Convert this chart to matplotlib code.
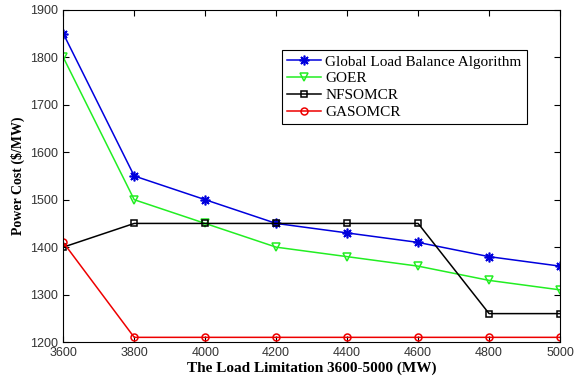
import numpy as np
import matplotlib.pyplot as plt

# Load limits (MW)
load = [3600, 3800, 4000, 4200, 4400, 4600, 4800, 5000]

# Power cost ($/MW) for each method
global_lb = [1850, 1550, 1500, 1450, 1430, 1410, 1380, 1360]
goer = [1800, 1500, 1450, 1400, 1380, 1360, 1330, 1310]
nfsomcr = [1400, 1450, 1450, 1450, 1450, 1450, 1260, 1260]
gasomcr = [1410, 1210, 1210, 1210, 1210, 1210, 1210, 1210]

fig = plt.figure(figsize=(5.75, 3.78), dpi=100)
ax = fig.add_axes([0.11, 0.095, 0.864, 0.879])

ax.plot(load, global_lb, color='#0000dd', marker=(8, 2, 0), markersize=7,
        markeredgewidth=1.2, lw=1.1, label='Global Load Balance Algorithm')
ax.plot(load, goer, color='#22ee22', marker='v', markersize=6, lw=1.1,
        markeredgewidth=1.1, markerfacecolor='none', label='GOER')
ax.plot(load, nfsomcr, color='black', marker='s', markersize=5, lw=1.1,
        markeredgewidth=1.1, markerfacecolor='none', label='NFSOMCR')
ax.plot(load, gasomcr, color='#ee0000', marker='o', markersize=5, lw=1.1,
        markeredgewidth=1.1, markerfacecolor='none', label='GASOMCR')

ax.set_xlim(3600, 5000)
ax.set_ylim(1200, 1900)
ax.set_xticks(np.arange(3600, 5001, 200))
ax.set_yticks(np.arange(1200, 1901, 100))
ax.tick_params(direction='in', top=True, right=True, labelsize=9, length=4)
for lbl in ax.get_xticklabels() + ax.get_yticklabels():
    lbl.set_family('Liberation Sans')
    lbl.set_color('#333333')

ax.set_xlabel('The Load Limitation 3600-5000 (MW)', family='Liberation Serif',
              fontweight='bold', fontsize=11, labelpad=2)
ax.set_ylabel('Power Cost ($/MW)', family='Liberation Serif',
              fontweight='bold', fontsize=10, labelpad=4)

leg = ax.legend(loc='upper left', bbox_to_anchor=(0.44, 0.88),
                borderaxespad=0,
                prop={'family': 'Liberation Serif', 'size': 11},
                fancybox=False, edgecolor='black', framealpha=1,
                handlelength=2.2, borderpad=0.35, labelspacing=0.2,
                handletextpad=0.3)
leg.get_frame().set_linewidth(0.8)

fig.savefig('out.png', dpi=100)
